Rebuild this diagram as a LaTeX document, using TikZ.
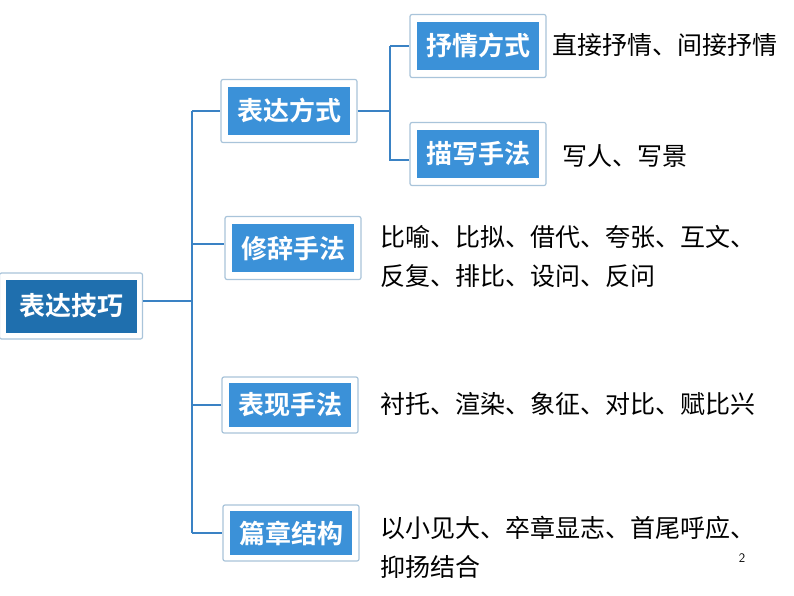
\documentclass[tikz,border=0pt]{standalone}
\usepackage{fontspec}
\setmainfont{Noto Sans CJK SC}
\newfontfamily\cjkb{Noto Sans CJK SC Bold}
\definecolor{rootblue}{HTML}{1F6FAE}
\definecolor{boxblue}{HTML}{3B91D8}
\definecolor{frame}{HTML}{A9C4DA}
\definecolor{linec}{HTML}{3A82C4}
\begin{document}
\begin{tikzpicture}[x=1pt,y=-1pt,
 box/.style={draw=frame,line width=1.2pt,fill=white,rounded corners=2pt,inner sep=0pt,
   minimum width=136pt,minimum height=63pt},
 inner/.style={fill=boxblue,text=white,font=\cjkb\fontsize{26}{28}\selectfont,
   minimum width=122pt,minimum height=48pt,inner sep=0pt},
 txt/.style={anchor=west,font=\fontsize{25}{39}\selectfont,text=black,inner sep=0pt,align=left},
 conn/.style={draw=linec,line width=1.2pt}]
\useasboundingbox (0,0) rectangle (794,596);
\fill[white] (0,0) rectangle (794,596);
% root
\node[box,minimum width=143pt,minimum height=66pt] (rootf) at (71,306) {};
\node[inner,fill=rootblue,minimum width=131pt,minimum height=53pt] (root) at (71,306) {表达技巧};
\node[box] (af) at (289,111) {}; \node[inner] (a) at (289,111) {表达方式};
\node[box] (bf) at (293,248) {}; \node[inner] (b) at (293,248) {修辞手法};
\node[box,minimum height=56pt] (cf) at (290,405) {}; \node[inner,minimum height=44pt] (c) at (290,405) {表现手法};
\node[box,minimum height=56pt] (df) at (291,533) {}; \node[inner,minimum height=44pt] (d) at (291,533) {篇章结构};
\node[box] (a1f) at (478,46) {}; \node[inner] (a1) at (478,46) {抒情方式};
\node[box] (a2f) at (478,154) {}; \node[inner] (a2) at (478,154) {描写手法};
% connectors
\coordinate (t0) at (192,301);
\draw[conn] (rootf.east |- t0) -- (t0);
\draw[conn] (192,111) -- (192,533);
\draw[conn] (192,111) -- (af.west);
\draw[conn] (192,244) -- (bf.west |- 0,244);
\draw[conn] (192,405) -- (cf.west);
\draw[conn] (192,533) -- (df.west);
\draw[conn] (af.east) -- (390,111);
\draw[conn] (390,46) -- (390,160) -- (a2f.west |- 0,160);
\draw[conn] (390,46) -- (a1f.west);
% texts
\node[txt] (t1) at (552,45) {直接抒情、间接抒情};
\node[txt] (t2) at (562,156) {写人、写景};
\node[txt] (t3) at (380,256) {比喻、比拟、借代、夸张、互文、\\反复、排比、设问、反问};
\node[txt] (t4) at (380,404) {衬托、渲染、象征、对比、赋比兴};
\node[txt] (t5) at (380,547) {以小见大、卒章显志、首尾呼应、\\抑扬结合};
\node[font=\sffamily\fontsize{13}{14}\selectfont] (pg) at (742,558) {2};
\end{tikzpicture}
\end{document}
